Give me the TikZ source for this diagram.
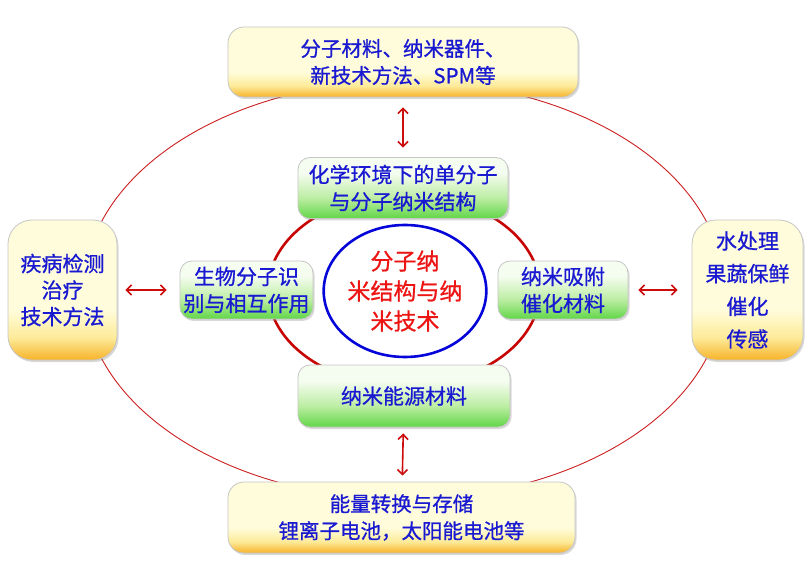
\documentclass[tikz,border=0pt]{standalone}
\usepackage{fontspec}
\setmainfont[FakeBold=0.8]{Noto Sans CJK SC}
\usetikzlibrary{shapes.geometric,shadows,arrows.meta}
\definecolor{yTop}{rgb}{1,0.99,0.86}
\definecolor{yMid}{rgb}{0.99,0.92,0.60}
\definecolor{yBot}{rgb}{0.97,0.70,0.16}
\definecolor{gTop}{rgb}{0.96,0.99,0.94}
\definecolor{gMid}{rgb}{0.74,0.93,0.64}
\definecolor{gBot}{rgb}{0.38,0.84,0.28}
\definecolor{txtblue}{rgb}{0.10,0.10,0.82}
\definecolor{cred}{rgb}{0.93,0.08,0.08}
\definecolor{ired}{rgb}{0.78,0.02,0.02}
\definecolor{ored}{rgb}{0.80,0.12,0.12}
\definecolor{cblue}{rgb}{0.02,0.02,0.85}
\definecolor{arrred}{rgb}{0.80,0.05,0.05}
\pgfdeclareverticalshading{yshade}{100bp}{color(0bp)=(yBot); color(25bp)=(yBot); color(33bp)=(yMid); color(43bp)=(yTop); color(75bp)=(yTop); color(100bp)=(yTop)}
\pgfdeclareverticalshading{gshade}{100bp}{color(0bp)=(gBot); color(25bp)=(gBot); color(42bp)=(gMid); color(62bp)=(gTop); color(75bp)=(gTop); color(100bp)=(gTop)}
\tikzset{
  boxbase/.style={draw=gray!45, line width=0.8pt, text=txtblue, align=center, inner sep=0pt,
    drop shadow={shadow xshift=1.5pt, shadow yshift=-2pt, opacity=0.3, fill=gray}},
  ybox/.style={boxbase, rounded corners=16pt, shading=yshade, font=\fontsize{20.5}{27}\selectfont},
  gbox/.style={boxbase, rounded corners=12pt, shading=gshade, font=\fontsize{21}{27}\selectfont},
  arr/.style={draw=arrred, line width=1.6pt, {Straight Barb[length=5pt,width=10pt]}-{Straight Barb[length=5pt,width=10pt]}},
}
\begin{document}
\begin{tikzpicture}[x=1pt,y=-1pt]
\useasboundingbox[fill=white] (0,0) rectangle (806,569);
% ellipses
\node[draw=ored, line width=0.9pt, ellipse, minimum width=640, minimum height=418, inner sep=0pt] (outer) at (404,290) {};
\node[draw=ired, line width=2.6pt, ellipse, minimum width=272, minimum height=192, inner sep=0pt] (ring) at (404,290) {};
\node[draw=cblue, line width=2.6pt, ellipse, minimum width=162, minimum height=132, inner sep=0pt,
  text=cred, align=center, font=\fontsize{23}{30}\selectfont] (core) at (405,291) {分子纳\\米结构与纳\\米技术};
% outer boxes
\node[ybox, minimum width=350, minimum height=70] (top) at (403,62) {分子材料、纳米器件、\\新技术方法、SPM等};
\node[ybox, minimum width=347, minimum height=71] (bottom) at (401.5,517.5) {能量转换与存储\\锂离子电池，太阳能电池等};
\node[ybox, rounded corners=24pt, minimum width=109, minimum height=140, font=\fontsize{21}{26.5}\selectfont] (left) at (62.5,290) {疾病检测\\治疗\\技术方法};
\node[ybox, rounded corners=24pt, minimum width=111, minimum height=140, font=\fontsize{21}{32.7}\selectfont] (right) at (747.5,290) {水处理\\果蔬保鲜\\催化\\传感};
% inner boxes
\node[gbox, minimum width=210, minimum height=61] (gtop) at (403,188) {化学环境下的单分子\\与分子纳米结构};
\node[gbox, minimum width=133, minimum height=58] (gleft) at (246.5,290) {生物分子识\\别与相互作用};
\node[gbox, minimum width=130, minimum height=58] (gright) at (563,290) {纳米吸附\\催化材料};
\node[gbox, minimum width=212, minimum height=62] (gbot) at (404,396) {纳米能源材料};
% arrows
\draw[arr, shorten <=10pt, shorten >=9.5pt] (top) -- (gtop);
\draw[arr, shorten <=8pt, shorten >=13pt] (left) -- (gleft);
\draw[arr, shorten <=10pt, shorten >=14pt] (gright) -- (right);
\draw[arr, shorten <=6pt, shorten >=6pt] (gbot) -- (bottom);
\end{tikzpicture}
\end{document}
